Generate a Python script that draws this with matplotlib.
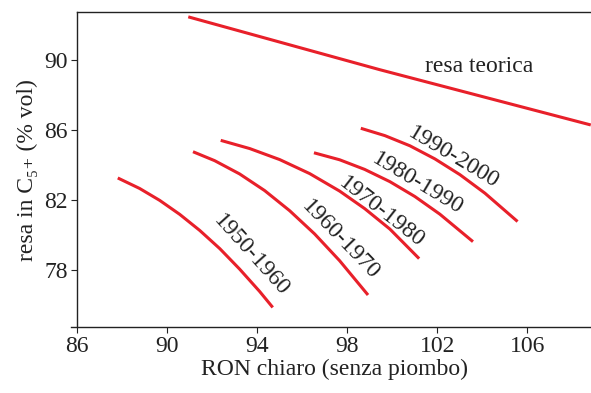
import matplotlib
matplotlib.use("Agg")
import matplotlib.pyplot as plt

plt.rcParams["font.family"] = ["Liberation Serif", "DejaVu Serif"]

RED = "#e8202a"
TEXT = "#222222"

# resa teorica
theo_x = [90.94, 99.44, 108.81]
theo_y = [92.47, 89.45, 86.29]

# decade curves (RON, resa C5+)
decades = ["1950-1960", "1960-1970", "1970-1980", "1980-1990", "1990-2000"]
curve_x = [
    [87.81, 88.78, 89.67, 90.56, 91.45, 92.34, 93.22, 94.11, 94.69],
    [91.15, 92.11, 93.22, 94.33, 95.44, 96.55, 97.66, 98.92],
    [92.38, 93.67, 95.00, 96.33, 97.66, 98.77, 99.89, 101.19],
    [96.52, 97.66, 98.77, 99.89, 101.00, 102.11, 103.58],
    [98.60, 99.67, 100.78, 101.89, 103.00, 104.11, 105.56],
]
curve_y = [
    [83.26, 82.66, 81.98, 81.18, 80.26, 79.22, 78.05, 76.77, 75.86],
    [84.76, 84.25, 83.49, 82.54, 81.39, 80.06, 78.53, 76.57],
    [85.41, 84.94, 84.31, 83.51, 82.51, 81.51, 80.34, 78.65],
    [84.70, 84.30, 83.75, 83.05, 82.20, 81.19, 79.62],
    [86.10, 85.68, 85.10, 84.35, 83.45, 82.39, 80.77],
]

# label anchors and angles
label_x = [93.74, 97.67, 99.52, 101.14, 102.70]
label_y = [78.82, 79.71, 81.31, 82.95, 84.43]
label_rot = [-48, -46, -38, -31, -31]

xticks = [86, 90, 94, 98, 102, 106]
yticks = [78, 82, 86, 90]

fig = plt.figure(figsize=(5.91, 3.93), dpi=100)
ax = fig.add_axes([0.1303, 0.1679, 0.8697, 0.8008])

ax.plot(theo_x, theo_y, color=RED, lw=2.2, solid_capstyle="butt")
ax.text(103.84, 89.62, "resa teorica", fontsize=17, color=TEXT, ha="center", va="center")

for xs, ys in zip(curve_x, curve_y):
    ax.plot(xs, ys, color=RED, lw=2.2, solid_capstyle="butt", solid_joinstyle="round")

for name, lx, ly, rot in zip(decades, label_x, label_y, label_rot):
    ax.text(lx, ly, name, fontsize=17, color=TEXT, rotation=rot,
            rotation_mode="anchor", ha="center", va="center")

ax.set_xlim(86, 108.82)
ax.set_ylim(74.74, 92.73)
ax.set_xticks(xticks)
ax.set_yticks(yticks)
ax.tick_params(direction="out", length=4.5, width=0.8, colors=TEXT,
               labelsize=17, pad=2)

ax.spines["right"].set_visible(False)
for s in ["left", "bottom", "top"]:
    ax.spines[s].set_color(TEXT)
    ax.spines[s].set_linewidth(1.0)
ax.spines["bottom"].set_bounds(85.73, 108.82)

ax.set_xlabel("RON chiaro (senza piombo)", fontsize=17, color=TEXT, labelpad=1)
ax.set_ylabel("resa in C\u2085\u208a (% vol)", fontsize=17, color=TEXT, labelpad=5)

fig.savefig("out.png", dpi=100)
